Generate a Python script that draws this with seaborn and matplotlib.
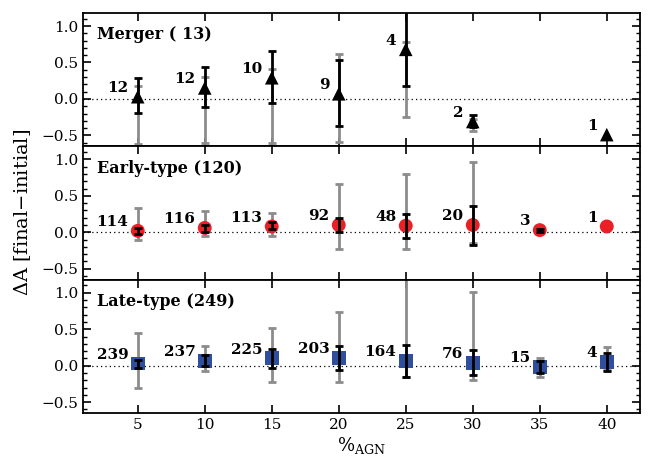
import numpy as np
import seaborn as sns
import matplotlib.pyplot as plt
from matplotlib.ticker import MultipleLocator

# percentage of AGN bins
pct = [5, 10, 15, 20, 25, 30, 35, 40]

# Merger (13)
mer_x = [5, 10, 15, 20, 25, 30, 40]
mer_n = [12, 12, 10, 9, 4, 2, 1]
mer_val = [0.03, 0.15, 0.29, 0.07, 0.68, -0.31, -0.49]
mer_blk_lo = [-0.19, -0.11, -0.05, -0.37, 0.18, -0.38, np.nan]
mer_blk_hi = [0.29, 0.44, 0.66, 0.53, 1.40, -0.22, np.nan]
mer_gry_lo = [-0.62, -0.60, -0.60, -0.59, -0.25, -0.44, np.nan]
mer_gry_hi = [0.18, 0.30, 0.41, 0.62, 0.78, -0.28, np.nan]

# Early-type (120)
ear_n = [114, 116, 113, 92, 48, 20, 3, 1]
ear_val = [0.02, 0.06, 0.08, 0.10, 0.09, 0.10, 0.03, 0.08]
ear_blk_lo = [-0.02, 0.01, 0.04, 0.00, -0.08, -0.17, 0.01, np.nan]
ear_blk_hi = [0.06, 0.10, 0.14, 0.19, 0.25, 0.36, 0.05, np.nan]
ear_gry_lo = [-0.11, -0.05, -0.05, -0.23, -0.23, -0.15, np.nan, np.nan]
ear_gry_hi = [0.33, 0.29, 0.26, 0.66, 0.80, 0.96, np.nan, np.nan]

# Late-type (249)
lat_n = [239, 237, 225, 203, 164, 76, 15, 4]
lat_val = [0.03, 0.07, 0.10, 0.11, 0.07, 0.04, -0.02, 0.05]
lat_blk_lo = [-0.03, 0.00, -0.03, -0.06, -0.16, -0.13, -0.10, -0.08]
lat_blk_hi = [0.08, 0.14, 0.23, 0.27, 0.29, 0.21, 0.06, 0.18]
lat_gry_lo = [-0.30, -0.08, -0.23, -0.22, -0.16, -0.20, -0.15, -0.06]
lat_gry_hi = [0.45, 0.27, 0.52, 0.73, 1.25, 1.01, 0.10, 0.25]

sns.set_style('ticks')
plt.rcParams['font.family'] = ['DejaVu Serif']
plt.rcParams['mathtext.fontset'] = 'dejavuserif'
for key in ['text.color', 'axes.labelcolor', 'xtick.color', 'ytick.color',
            'axes.edgecolor']:
    plt.rcParams[key] = 'black'

fig, axes = plt.subplots(3, 1, figsize=(6.52, 4.62), dpi=100, sharex=True)
fig.subplots_adjust(left=0.127, right=0.982, top=0.972, bottom=0.106, hspace=0)


def draw_panel(ax, x, val, blo, bhi, glo, ghi, nums, title, marker, color, size):
    x = np.array(x, float)
    val = np.array(val, float)

    # gray bars (outer)
    glo = np.array(glo, float)
    ghi = np.array(ghi, float)
    ok = ~np.isnan(glo)
    ax.errorbar(x[ok], val[ok], yerr=[val[ok] - glo[ok], ghi[ok] - val[ok]],
                fmt='none', ecolor='#8c8c8c', elinewidth=2, capsize=3,
                capthick=2, zorder=2)

    sns.scatterplot(x=x, y=val, marker=marker, color=color, s=size,
                    edgecolor='none', ax=ax, zorder=3, legend=False)

    # black bars (inner)
    blo = np.array(blo, float)
    bhi = np.array(bhi, float)
    ok = ~np.isnan(blo)
    ax.errorbar(x[ok], val[ok], yerr=[val[ok] - blo[ok], bhi[ok] - val[ok]],
                fmt='none', ecolor='black', elinewidth=2, capsize=3,
                capthick=2, zorder=4)

    for xi, vi, n in zip(x, val, nums):
        ax.text(xi - 0.7, vi + 0.12, str(n), ha='right', va='center',
                fontsize=11, fontweight='bold')

    ax.axhline(0, color='black', ls=(0, (1, 2.5)), lw=0.9, zorder=1)
    ax.text(0.025, 0.835, title, transform=ax.transAxes, fontsize=11.5,
            fontweight='bold', ha='left', va='center')

    ax.set_xlim(0.9, 42.5)
    ax.set_ylim(-0.65, 1.18)
    ax.yaxis.set_major_locator(MultipleLocator(0.5))
    ax.yaxis.set_minor_locator(MultipleLocator(0.1))
    ax.xaxis.set_major_locator(MultipleLocator(5))
    ax.set_yticks([-0.5, 0.0, 0.5, 1.0])
    ax.set_yticklabels(['\u22120.5', '0.0', '0.5', '1.0'])
    ax.tick_params(which='both', direction='in', top=True, right=True,
                   labelsize=11)
    ax.tick_params(which='major', length=6, width=1.2)
    ax.tick_params(which='minor', length=3, width=1)
    for sp in ax.spines.values():
        sp.set_linewidth(1.3)


draw_panel(axes[0], mer_x, mer_val, mer_blk_lo, mer_blk_hi, mer_gry_lo,
           mer_gry_hi, mer_n, 'Merger ( 13)', '^', 'black', 95)
draw_panel(axes[1], pct, ear_val, ear_blk_lo, ear_blk_hi, ear_gry_lo,
           ear_gry_hi, ear_n, 'Early-type (120)', 'o', '#ea2027', 100)
draw_panel(axes[2], pct, lat_val, lat_blk_lo, lat_blk_hi, lat_gry_lo,
           lat_gry_hi, lat_n, 'Late-type (249)', 's', '#2f4f9e', 100)

axes[2].set_xlabel(r'%$_{\rm AGN}$', fontsize=13, labelpad=2)
fig.text(0.035, 0.54, r'$\Delta$A [final$-$initial]', rotation=90,
         ha='center', va='center', fontsize=14)

plt.savefig('out.png', dpi=100)
